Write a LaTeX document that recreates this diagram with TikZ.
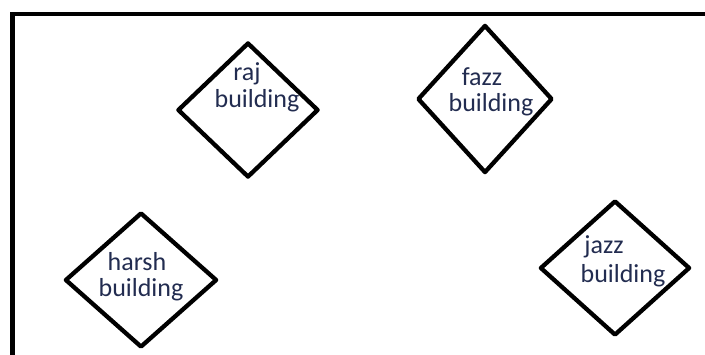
\documentclass[tikz,border=0pt]{standalone}
\usepackage{fontspec}
\setmainfont{Carlito}
\usetikzlibrary{shapes.geometric}
\definecolor{labelink}{RGB}{34,44,80}
\tikzset{
  bldg/.style={shape=diamond, draw=black, line width=4.3pt, line join=round,
               inner sep=0pt, minimum width=#1},
  word/.style={text=labelink, inner sep=0pt, anchor=center,
               font=\fontsize{26}{30}\selectfont},
  frameline/.style={draw=black, line width=4.5pt}
}
\begin{document}
\begin{tikzpicture}[x=1pt, y=-1pt]
  \useasboundingbox (0,0) rectangle (705,354);
  \clip (0,0) rectangle (705,354);

  % outer frame: only the top and left edges are visible
  \coordinate (fbl) at (12.5,360);
  \coordinate (ftl) at (12.5,14);
  \coordinate (ftr) at (710,14);
  \draw[frameline] (fbl) -- (ftl) -- (ftr);

  % buildings
  \node[bldg=141pt, minimum height=135pt] (raj)   at (248,110) {};
  \node[bldg=135pt, minimum height=148pt] (fazz)  at (485,99)  {};
  \node[bldg=152pt, minimum height=135pt] (harsh) at (141,280) {};
  \node[bldg=150pt, minimum height=135pt] (jazz)  at (615,268) {};

  % labels
  \node[word] (raj1)   at (247,74)  {raj};
  \node[word] (raj2)   at (257,101) {building};
  \node[word] (fazz1)  at (482,77)  {fazz};
  \node[word] (fazz2)  at (491,105) {building};
  \node[word] (harsh1) at (137,262) {harsh};
  \node[word] (harsh2) at (141,290) {building};
  \node[word] (jazz1)  at (604,247) {jazz};
  \node[word] (jazz2)  at (623,276) {building};
\end{tikzpicture}
\end{document}
